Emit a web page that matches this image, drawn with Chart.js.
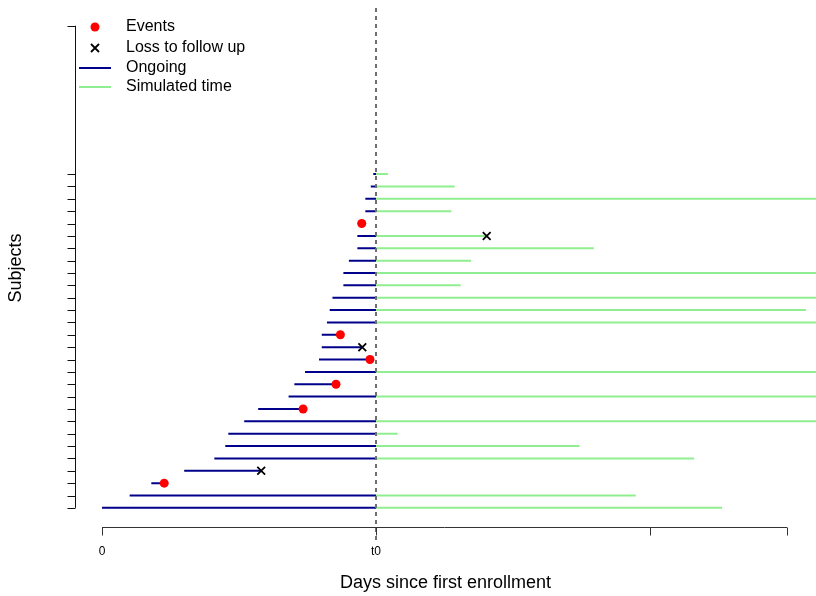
<!DOCTYPE html>
<html>
<head>
<meta charset="utf-8">
<script src="https://cdn.jsdelivr.net/npm/chart.js@4.4.1/dist/chart.umd.min.js"></script>
<style>
  html, body { margin: 0; padding: 0; background: #fff; overflow: hidden; }
  #wrap { width: 816px; height: 596px; }
  canvas { display: block; }
</style>
</head>
<body>
<div id="wrap"><canvas id="followChart" width="816" height="596" style="width:816px;height:596px"></canvas></div>
<script>
// subject 1 is the bottom row, subject 28 the top one (days, t0 = 100)
const startDays = [0, 10.1, 18.0, 30.0, 41.0, 45.0, 46.1, 51.9, 57.0, 68.1, 70.2, 74.1, 79.2, 80.2,
    80.2, 82.1, 83.1, 84.1, 88.1, 88.1, 90.1, 93.2, 93.2, 93.3, 96.1, 96.1, 98.1, 99.0];
const stopDays = [100, 100, 22.7, 58.1, 100, 100, 100, 100, 73.4, 100, 85.4, 100, 97.8, 95.0,
    87.0, 100, 100, 100, 100, 100, 100, 100, 100, 94.8, 100, 100, 100, 100];
const simEndDays = [226.3, 194.8, null, null, 216.1, 174.3, 107.9, 300, null, 300, null, 300, null, null,
    null, 300, 256.9, 300, 130.9, 300, 134.7, 179.5, 140.4, null, 127.5, 300, 128.7, 104.4];

const eventSubjects = [3, 9, 11, 13, 15, 24];
const eventDays = [22.7, 73.4, 85.4, 97.8, 87.0, 94.8];
const lossSubjects = [4, 14, 23];
const lossDays = [58.1, 95.0, 140.4];

const t0 = 100;
const xTickValues = [0, 100, 200, 250];
const xTickLabels = ['0', 't0', '', ''];
const yTickValues = [1, 2, 3, 4, 5, 6, 7, 8, 9, 10, 11, 12, 13, 14, 15, 16, 17, 18, 19, 20,
    21, 22, 23, 24, 25, 26, 27, 28, 40];

const legendLabels = ['Events', 'Loss to follow up', 'Ongoing', 'Simulated time'];

const FONT = '"Liberation Sans", Arial, Helvetica, sans-serif';
const NAVY = '#00008B';
const LGREEN = '#90EE90';

// blue / green segments, one null point between them to break the line
const ongoingPts = [];
const simPts = [];
startDays.forEach((s, i) => {
    const row = i + 1;
    ongoingPts.push({ x: s, y: row }, { x: stopDays[i], y: row }, { x: stopDays[i], y: null });
    if (simEndDays[i] !== null) {
        simPts.push({ x: t0, y: row }, { x: simEndDays[i], y: row }, { x: simEndDays[i], y: null });
    }
});

const eventPts = eventSubjects.map((r, i) => ({ x: eventDays[i], y: r }));
const lossPts = lossSubjects.map((r, i) => ({ x: lossDays[i], y: r }));

// R style axes, titles and legend
const rAxes = {
    id: 'rAxes',
    afterDraw(chart) {
        const ctx = chart.ctx;
        const xs = chart.scales.x;
        const ys = chart.scales.y;
        const area = chart.chartArea;
        ctx.save();

        // y axis
        const ax = area.left + 0.5;
        ctx.strokeStyle = '#111';
        ctx.lineWidth = 1;
        ctx.beginPath();
        ctx.moveTo(ax, ys.getPixelForValue(yTickValues[0]));
        ctx.lineTo(ax, ys.getPixelForValue(yTickValues[yTickValues.length - 1]));
        yTickValues.forEach(v => {
            const py = Math.round(ys.getPixelForValue(v)) + 0.5;
            ctx.moveTo(ax, py);
            ctx.lineTo(ax - 8, py);
        });
        ctx.stroke();

        // x axis
        const ay = area.bottom - 12.5;
        ctx.strokeStyle = '#333';
        ctx.beginPath();
        ctx.moveTo(xs.getPixelForValue(xTickValues[0]), ay);
        ctx.lineTo(xs.getPixelForValue(xTickValues[xTickValues.length - 1]), ay);
        xTickValues.forEach(v => {
            const px = Math.round(xs.getPixelForValue(v)) + 0.5;
            ctx.moveTo(px, ay);
            ctx.lineTo(px, ay + 8);
        });
        ctx.stroke();

        ctx.fillStyle = '#000';
        ctx.textAlign = 'center';
        ctx.textBaseline = 'middle';
        ctx.font = '12px ' + FONT;
        xTickValues.forEach((v, i) => {
            if (xTickLabels[i]) ctx.fillText(xTickLabels[i], xs.getPixelForValue(v), 552);
        });

        ctx.font = '18px ' + FONT;
        ctx.fillText('Days since first enrollment', (area.left + area.right) / 2, 583);
        ctx.save();
        ctx.translate(16, 268);
        ctx.rotate(-Math.PI / 2);
        ctx.fillText('Subjects', 0, 0);
        ctx.restore();

        // legend
        const lx = 95, ly = [27, 48, 68, 87];
        ctx.fillStyle = 'red';
        ctx.beginPath();
        ctx.arc(lx, ly[0], 4.5, 0, Math.PI * 2);
        ctx.fill();
        ctx.strokeStyle = '#000';
        ctx.lineWidth = 1.8;
        ctx.beginPath();
        ctx.moveTo(lx - 4, ly[1] - 4); ctx.lineTo(lx + 4, ly[1] + 4);
        ctx.moveTo(lx + 4, ly[1] - 4); ctx.lineTo(lx - 4, ly[1] + 4);
        ctx.stroke();
        ctx.lineWidth = 2;
        ctx.strokeStyle = NAVY;
        ctx.beginPath(); ctx.moveTo(79, ly[2]); ctx.lineTo(111, ly[2]); ctx.stroke();
        ctx.strokeStyle = LGREEN;
        ctx.beginPath(); ctx.moveTo(79, ly[3]); ctx.lineTo(111, ly[3]); ctx.stroke();

        ctx.fillStyle = '#000';
        ctx.textAlign = 'left';
        ctx.font = '16px ' + FONT;
        legendLabels.forEach((t, i) => ctx.fillText(t, 126, ly[i]));

        ctx.restore();
    }
};

const options = {
    responsive: false,
    animation: false,
    layout: { autoPadding: false, padding: { left: 75, right: 0, top: 6, bottom: 56 } },
    plugins: { legend: { display: false }, tooltip: { enabled: false } },
    scales: {
        x: { type: 'linear', min: -9.854, max: 260.58, display: false },
        y: { type: 'linear', min: -1.6, max: 41.6, display: false }
    }
};

const chart = new Chart(document.getElementById('followChart'), {
    type: 'scatter',
    data: {
        datasets: [
            {
                label: 't0',
                data: [{ x: t0, y: -1.6 }, { x: t0, y: 41.6 }],
                showLine: true,
                borderColor: '#707070',
                borderWidth: 2,
                borderDash: [4, 4],
                pointRadius: 0
            },
            {
                label: 'Events',
                data: eventPts,
                pointStyle: 'circle',
                pointRadius: 4.5,
                backgroundColor: 'red',
                borderWidth: 0
            },
            {
                label: 'Loss to follow up',
                data: lossPts,
                pointStyle: 'crossRot',
                pointRadius: 5.5,
                borderColor: '#000',
                borderWidth: 1.8
            },
            {
                label: 'Ongoing',
                data: ongoingPts,
                showLine: true,
                spanGaps: false,
                borderColor: NAVY,
                borderWidth: 2,
                pointRadius: 0
            },
            {
                label: 'Simulated time',
                data: simPts,
                showLine: true,
                spanGaps: false,
                borderColor: LGREEN,
                borderWidth: 2,
                pointRadius: 0
            }
        ]
    },
    options: options,
    plugins: [rAxes]
});
</script>
</body>
</html>
